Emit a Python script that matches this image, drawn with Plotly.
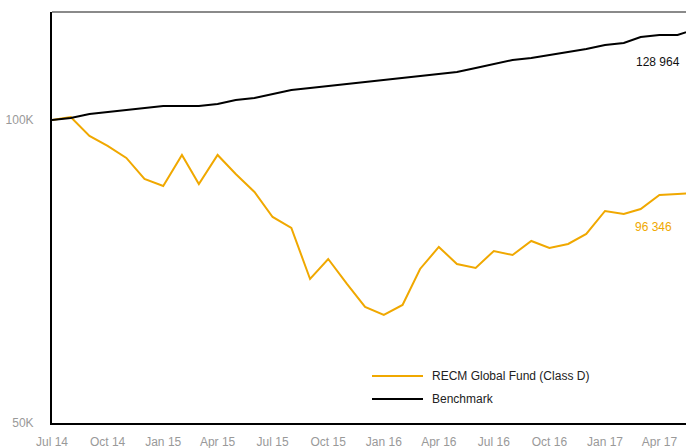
import plotly.graph_objects as go

months = ["2014-07-01","2014-08-01","2014-09-01","2014-10-01","2014-11-01","2014-12-01",
          "2015-01-01","2015-02-01","2015-03-01","2015-04-01","2015-05-01","2015-06-01",
          "2015-07-01","2015-08-01","2015-09-01","2015-10-01","2015-11-01","2015-12-01",
          "2016-01-01","2016-02-01","2016-03-01","2016-04-01","2016-05-01","2016-06-01",
          "2016-07-01","2016-08-01","2016-09-01","2016-10-01","2016-11-01","2016-12-01",
          "2017-01-01","2017-02-01","2017-03-01","2017-04-01","2017-05-01","2017-06-01"]

fund = [100000,100495,97360,95710,93730,90265,
        89110,94225,89440,94225,91090,88120,
        83995,82180,73765,77065,72940,69145,
        67825,69475,75415,79045,76240,75580,
        78385,77725,80035,78880,79540,81190,
        84985,84490,85315,87625,87790,87955]

benchmark = [100000,100330,100990,101320,101650,101980,
             102310,102310,102310,102640,103300,103630,
             104290,104950,105280,105610,105940,106270,
             106600,106930,107260,107590,107920,108580,
             109240,109900,110230,110725,111220,111715,
             112375,112705,113695,114025,114025,115015]

tick_dates = ["2014-07-01","2014-10-01","2015-01-01","2015-04-01","2015-07-01","2015-10-01",
              "2016-01-01","2016-04-01","2016-07-01","2016-10-01","2017-01-01","2017-04-01"]
tick_labels = ["Jul 14","Oct 14","Jan 15","Apr 15","Jul 15","Oct 15",
               "Jan 16","Apr 16","Jul 16","Oct 16","Jan 17","Apr 17"]
y_ticks = [50000, 100000]
y_labels = ["50K", "100K"]

fund_name = "RECM Global Fund (Class D)"
bench_name = "Benchmark"
fund_end_label = "96 346"
bench_end_label = "128 964"

ORANGE = "#F0A800"
FONT = "Liberation Sans Narrow, Liberation Sans, Arial, sans-serif"

W, H = 686, 448
L, R, T, B = 52, 0, 12, 25
pw, ph = W - L - R, H - T - B

def px(x):
    return (x - L) / pw

def py(y):
    return (H - B - y) / ph

fig = go.Figure()
fig.add_trace(go.Scatter(x=months, y=fund, mode="lines", name=fund_name,
                         line=dict(color=ORANGE, width=2), showlegend=False))
fig.add_trace(go.Scatter(x=months, y=benchmark, mode="lines", name=bench_name,
                         line=dict(color="#000000", width=2), showlegend=False))

shapes = [
    dict(type="line", xref="paper", yref="paper", x0=0, x1=1, y0=1, y1=1,
         line=dict(color="#8a8a8a", width=2)),
    dict(type="line", xref="paper", yref="paper", x0=px(372), x1=px(423), y0=py(376), y1=py(376),
         line=dict(color=ORANGE, width=2)),
    dict(type="line", xref="paper", yref="paper", x0=px(372), x1=px(423), y0=py(399), y1=py(399),
         line=dict(color="#000000", width=2)),
]

annotations = [
    dict(text=fund_name, xref="paper", yref="paper", x=px(430), y=py(376), xanchor="left",
         yanchor="middle", showarrow=False, font=dict(family=FONT, size=12, color="#222222")),
    dict(text=bench_name, xref="paper", yref="paper", x=px(430), y=py(399), xanchor="left",
         yanchor="middle", showarrow=False, font=dict(family=FONT, size=12, color="#222222")),
    dict(text=bench_end_label, xref="paper", yref="paper", x=px(682), y=py(62), xanchor="right",
         yanchor="middle", showarrow=False, font=dict(family=FONT, size=12, color="#111111")),
    dict(text=fund_end_label, xref="paper", yref="paper", x=px(674), y=py(227), xanchor="right",
         yanchor="middle", showarrow=False, font=dict(family=FONT, size=12, color=ORANGE)),
]

fig.update_layout(
    width=W, height=H,
    margin=dict(l=L, r=R, t=T, b=B),
    paper_bgcolor="white", plot_bgcolor="white",
    font=dict(family=FONT, size=12, color="#999999"),
    shapes=shapes, annotations=annotations,
    xaxis=dict(type="date", range=["2014-07-01", "2017-05-15"], automargin=False,
               tickvals=tick_dates, ticktext=tick_labels, showgrid=False, zeroline=False,
               showline=True, linecolor="#000000", linewidth=2, ticks="",
               ticklabelstandoff=7, tickfont=dict(family=FONT, size=12, color="#999999")),
    yaxis=dict(range=[50000, 117815], tickvals=y_ticks, ticktext=y_labels, automargin=False,
               showgrid=False, zeroline=False, showline=True, linecolor="#000000", linewidth=2,
               ticks="", ticklabelstandoff=14, tickfont=dict(family=FONT, size=12, color="#999999")),
)

fig.write_html("out.html", config={"displayModeBar": False},
               post_script="document.body.style.margin='0';document.body.style.overflow='hidden';")
